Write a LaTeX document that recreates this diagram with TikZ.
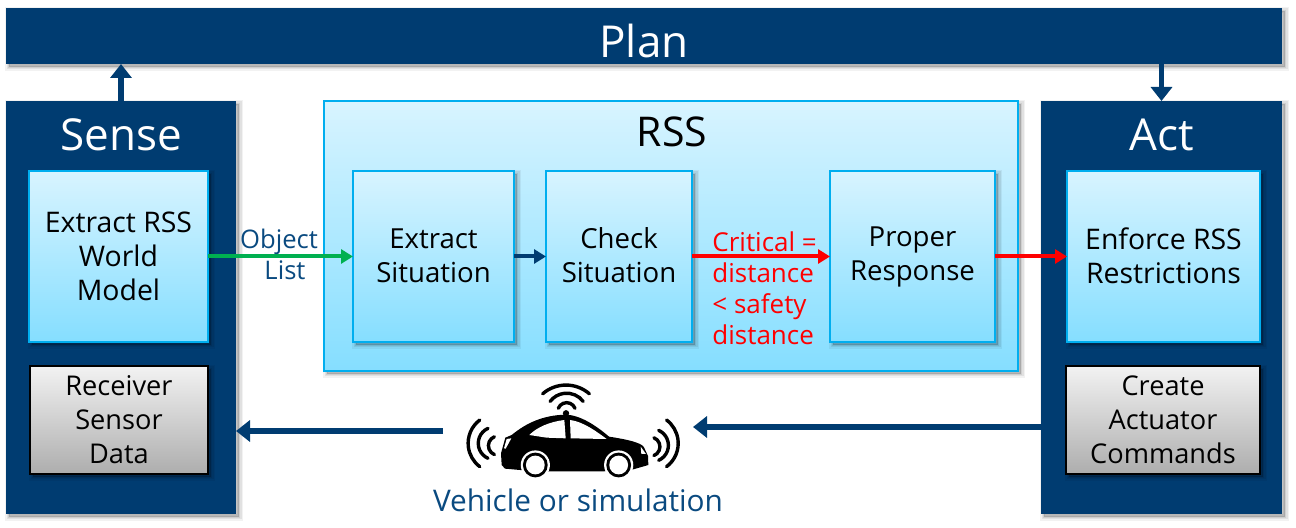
\documentclass[tikz,border=0pt]{standalone}
\usepackage{fontspec}
\setmainfont{Open Sans}
\usetikzlibrary{arrows.meta,calc}
\definecolor{navy}{HTML}{003C71}
\definecolor{lightb}{HTML}{00AEEF}
\definecolor{gtop}{HTML}{D8F4FF}
\definecolor{gbot}{HTML}{85DEFF}
\definecolor{txtblue}{HTML}{0A4A80}
\definecolor{rgreen}{HTML}{00B050}
\tikzset{
  softshadow/.style={
    preaction={draw=black,fill=black,draw opacity=.05,fill opacity=.05,line width=4pt,transform canvas={shift={(1.5pt,-1.5pt)}}},
    preaction={draw=black,fill=black,draw opacity=.07,fill opacity=.07,line width=2.5pt,transform canvas={shift={(1.5pt,-1.5pt)}}},
    preaction={draw=black,fill=black,draw opacity=.08,fill opacity=.08,line width=1pt,transform canvas={shift={(1.5pt,-1.5pt)}}}},
  navybox/.style={rectangle,fill=navy,inner sep=0pt,outer sep=0pt,anchor=north west,softshadow},
  bluebox/.style={rectangle,draw=lightb,line width=0.9pt,top color=gtop,bottom color=gbot,inner sep=0pt,outer sep=0pt,anchor=north west,softshadow,align=center,font=\fontsize{13.8}{17}\selectfont,text=black},
  greybox/.style={rectangle,draw=black,line width=0.9pt,top color=white!95!black,bottom color=black!32,inner sep=0pt,outer sep=0pt,anchor=north west,softshadow,align=center,font=\fontsize{13.6}{17}\selectfont,text=black},
  widetext/.style={font=\fontsize{14.2}{17}\selectfont},
  title/.style={font=\fontsize{22}{26}\selectfont,inner sep=0pt},
  navyarrow/.style={draw=navy,line width=2.6pt,-{Triangle[length=7pt,width=10.5pt]},shorten >=0pt},
  thinarrow/.style={line width=2pt},
  lab/.style={inner sep=0pt,align=center},
  wave/.style={draw=black,line width=1.7pt,line cap=round},
}
\newcommand{\wavearc}[5]{\draw[wave,shift={(#1,#2)}] (#4:#3pt) arc[start angle=#4,end angle=#5,radius=#3pt];}
\begin{document}
\begin{tikzpicture}[x=0.5pt,y=-0.5pt]
\useasboundingbox (0,0) rectangle (1296,528);
% main boxes
\node[navybox,minimum width=638pt,minimum height=28pt] (plan) at (6,8) {};
\node[navybox,minimum width=115pt,minimum height=206.5pt] (sense) at (6,101) {};
\node[navybox,minimum width=120.5pt,minimum height=206.5pt] (act) at (1041,101) {};
\node[bluebox,minimum width=347pt,minimum height=135pt] (rss) at (324,101) {};
\node[title,text=white] (plantxt) at (644,41) {Plan};
\node[title,text=white] (sensetxt) at (121,135) {Sense};
\node[title,text=white] (acttxt) at (1162,135) {Act};
\node[title,text=black,font=\fontsize{20.5}{24}\selectfont] (rsstxt) at (672,132) {RSS};
% inner boxes
\node[bluebox,widetext,minimum width=89.5pt,minimum height=85.5pt] (world) at (29,171) {Extract RSS\\World\\Model};
\node[greybox,minimum width=89pt,minimum height=54pt] (recv) at (30,366) {Receiver\\Sensor\\Data};
\node[bluebox,minimum width=80.5pt,minimum height=85.5pt] (exsit) at (353,171) {\raisebox{1pt}{Extract}\\\raisebox{1pt}{Situation}};
\node[bluebox,minimum width=73pt,minimum height=85.5pt] (check) at (546,171) {\raisebox{1pt}{Check}\\\raisebox{1pt}{Situation}};
\node[bluebox,minimum width=82.5pt,minimum height=85.5pt] (proper) at (830,171) {\raisebox{0pt}{Proper}\\\raisebox{0pt}{Response}};
\node[bluebox,widetext,minimum width=96.5pt,minimum height=85.5pt] (enforce) at (1067,171) {\raisebox{1pt}{Enforce RSS}\\\raisebox{1pt}{Restrictions}};
\node[greybox,minimum width=97pt,minimum height=54pt] (create) at (1066,366) {Create\\Actuator\\Commands};
% labels
\node[lab,text=txtblue,font=\fontsize{12.8}{15.5}\selectfont] (objlab) at (279,254) {Object\\\hspace*{6pt}List};
\node[lab,text=red,font=\fontsize{13}{15.6}\selectfont,align=left,anchor=north west] (critlab) at (712,231) {Critical =\\distance\\< safety\\distance};
\node[lab,text=txtblue,font=\fontsize{14.9}{17}\selectfont] (vehlab) at (578,500) {Vehicle or simulation};
% connectors
\draw[navyarrow] (sense.north) -- (plan.south -| sense.north);
\draw[navyarrow] (plan.south -| act.north) -- (act.north);
\draw[thinarrow,draw=rgreen,{-{Triangle[length=6pt,width=7pt,fill=rgreen]}}] (world.east) -- (exsit.west);
\draw[thinarrow,draw=navy,{-{Triangle[length=6pt,width=7pt,fill=navy]}}] (exsit.east) -- (check.west);
\draw[thinarrow,draw=red,{-{Triangle[length=6pt,width=7pt,fill=red]}}] (check.east) -- (proper.west);
\draw[thinarrow,draw=red,{-{Triangle[length=6pt,width=7pt,fill=red]}}] (proper.east) -- (enforce.west);
\coordinate (carL) at (443,431);
\coordinate (senseR) at (236,431);
\coordinate (actL) at (1041,427);
\coordinate (carR) at (693,427);
\draw[navyarrow] (carL) -- (senseR);
\draw[navyarrow] (actL) -- (carR);
% car (drawn on the 3x zoom grid)
\begin{scope}[shift={(430,370)},x=0.16667pt,y=-0.16667pt]
\fill[black] (215,285) -- (213,250) -- (226,203) -- (245,195)
  .. controls (290,158) and (340,136) .. (405,134)
  .. controls (450,134) and (500,168) .. (537,200)
  .. controls (590,208) and (635,218) .. (642,232)
  -- (654,258) -- (655,285) -- (610,298) -- (520,304) -- (360,304) -- (270,300) -- (225,296) -- cycle;
\fill[black] (408,130) circle[radius=1.6pt];
\fill[white] (298,195) .. controls (320,172) and (360,155) .. (403,150) -- (407,205) -- (350,203) -- cycle;
\fill[white] (420,150) .. controls (460,155) and (500,185) .. (530,207) -- (422,205) -- cycle;
\fill[white] (222,235) -- (230,207) -- (244,205) -- (227,236) -- cycle;
\fill[white] (632,230) -- (648,252) -- (634,252) -- cycle;
\fill[white] (316,285) circle[radius=7.3pt];
\fill[black] (316,285) circle[radius=6.2pt];
\fill[white] (316,285) circle[radius=4.7pt];
\fill[white] (566,285) circle[radius=7.3pt];
\fill[black] (566,285) circle[radius=6.2pt];
\fill[white] (566,285) circle[radius=4.7pt];
\wavearc{408}{152}{17.8}{49}{131}
\wavearc{410}{132}{10.4}{37}{143}
\wavearc{410}{125}{4.5}{22}{158}
\wavearc{202}{220}{14.6}{127}{233}
\wavearc{194}{220}{8.2}{114}{246}
\wavearc{204}{227}{4.8}{112}{248}
\wavearc{657}{220}{14.6}{-53}{53}
\wavearc{666}{226}{8.2}{-66}{66}
\wavearc{661}{230}{4.8}{-68}{68}
\end{scope}
\end{tikzpicture}
\end{document}
